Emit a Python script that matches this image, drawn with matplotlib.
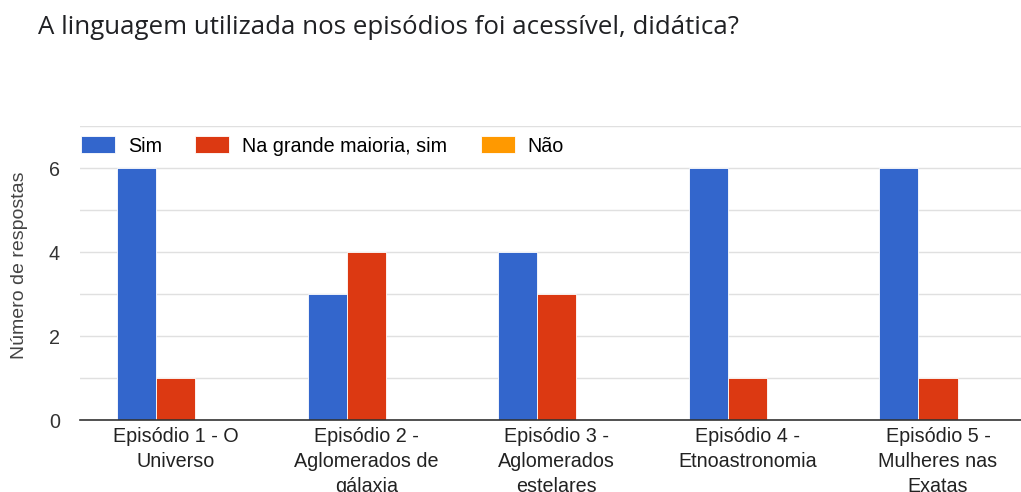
import matplotlib.pyplot as plt
import numpy as np

plt.rcParams['font.family'] = ['Liberation Sans', 'DejaVu Sans']

# data
episodes = ['Episódio 1 - O\nUniverso', 'Episódio 2 -\nAglomerados de\ngálaxia',
            'Episódio 3 -\nAglomerados\nestelares', 'Episódio 4 -\nEtnoastronomia',
            'Episódio 5 -\nMulheres nas\nExatas']
series_names = ['Sim', 'Na grande maioria, sim', 'Não']
sim = [6, 3, 4, 6, 6]
maioria = [1, 4, 3, 1, 1]
nao = [0, 0, 0, 0, 0]
colors = ['#3366cc', '#dc3912', '#ff9900']

fig = plt.figure(figsize=(10.21, 4.92), dpi=100)
ax = fig.add_axes([0.0784, 0.1463, 0.9216, 0.5976])

x = np.arange(len(episodes))
w = 0.205
for j, (vals, name) in enumerate(zip([sim, maioria, nao], series_names)):
    ax.bar(x + (j - 1) * w, vals, width=w, color=colors[j], label=name,
           edgecolor='white', linewidth=0.6, zorder=3)

ax.set_xlim(-0.501, 4.4355)
ax.set_ylim(0, 7)
ax.set_yticks([0, 2, 4, 6])
ax.set_yticks([1, 3, 5, 7], minor=True)
ax.grid(axis='y', which='both', color='#e0e0e0', linewidth=1, zorder=0)
for s in ['top', 'right', 'left']:
    ax.spines[s].set_visible(False)
ax.spines['bottom'].set_color('#333333')
ax.spines['bottom'].set_linewidth(1.2)
ax.spines['bottom'].set_zorder(4)

ax.set_xticks(x)
ax.set_xticklabels(episodes, fontsize=14.2, color='#222222', linespacing=1.4, va='top')
ax.tick_params(axis='x', length=0, pad=5)
ax.tick_params(axis='y', which='both', length=0, pad=14.4, labelsize=14.2, labelcolor='#333333')
ax.set_ylabel('Número de respostas', fontsize=14, color='#444444')
ax.yaxis.set_label_coords(-0.0554, 0.527)

ax.legend(loc='center left', bbox_to_anchor=(0.001, 0.932), ncol=3, frameon=False,
          fontsize=14.2, borderaxespad=0, borderpad=0, handlelength=1.73,
          handleheight=0.91, handletextpad=0.66, columnspacing=1.68)

fig.text(0.037, 1 - 27 / 492, 'A linguagem utilizada nos episódios foi acessível, didática?',
         fontsize=18.6, color='#202124', va='center', ha='left', family='Open Sans')

fig.savefig('out.png', dpi=100)
